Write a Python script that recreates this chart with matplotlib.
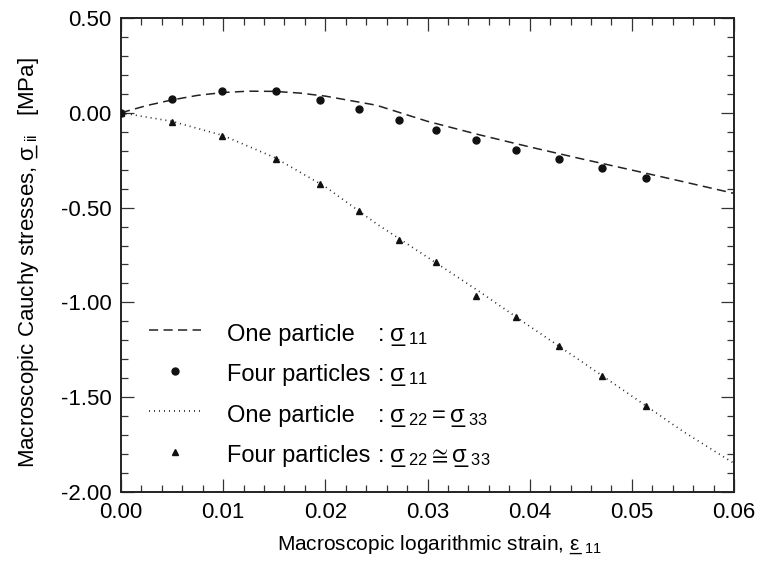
import matplotlib
matplotlib.use("Agg")
import matplotlib.pyplot as plt
from matplotlib.ticker import MultipleLocator, FormatStrFormatter

plt.rcParams["font.family"] = ["Liberation Sans", "DejaVu Sans"]
plt.rcParams["mathtext.fontset"] = "custom"
plt.rcParams["mathtext.rm"] = "Liberation Sans"
plt.rcParams["mathtext.it"] = "Liberation Sans"

# one particle, sigma_11 (dashed curve)
x_one = [0, 0.0025, 0.005, 0.0075, 0.01, 0.0125, 0.015, 0.0175, 0.02, 0.025,
         0.03, 0.035, 0.04, 0.045, 0.05, 0.055, 0.06]
s11_one = [0, 0.038, 0.068, 0.092, 0.107, 0.114, 0.113, 0.104, 0.088, 0.040,
           -0.045, -0.115, -0.180, -0.242, -0.302, -0.363, -0.425]
# one particle, sigma_22 = sigma_33 (dotted curve)
x_one2 = [0, 0.005, 0.01, 0.015, 0.02, 0.025, 0.03, 0.035, 0.04, 0.045, 0.05, 0.055, 0.06]
s22_one = [0, -0.045, -0.12, -0.235, -0.39, -0.585, -0.762, -0.94, -1.126,
           -1.309, -1.494, -1.68, -1.849]
# four particles (markers)
x_four = [0, 0.0050, 0.0099, 0.0152, 0.0195, 0.0233, 0.0272, 0.0308, 0.0347,
          0.0387, 0.0429, 0.0471, 0.0514]
s11_four = [0, 0.073, 0.113, 0.113, 0.069, 0.020, -0.040, -0.091, -0.145,
            -0.195, -0.244, -0.291, -0.342]
s22_four = [0, -0.047, -0.122, -0.244, -0.376, -0.516, -0.671, -0.789, -0.965,
            -1.079, -1.230, -1.387, -1.546]


# mathtext has no \underline: put an underscore back under the symbol
def ul(sym, sub, back=0.6):
    return r"%s\hspace{-%s}\_\,_{%s}" % (sym, back, sub)


fig = plt.figure(figsize=(7.61, 5.68), dpi=100)
ax = fig.add_axes([121 / 761, 1 - 492 / 568, 613 / 761, 474 / 568])

ax.plot(x_one, s11_one, color="#222222", lw=1.1, dashes=(6, 3.5))
ax.plot(x_one2, s22_one, color="#222222", lw=1.2, dashes=(0.6, 2.4))
ax.plot(x_four, s11_four, "o", color="#111111", ms=5, zorder=5)
ax.plot(x_four, s22_four, "^", color="#111111", ms=5, zorder=5)

ax.set_xlim(0, 0.06)
ax.set_ylim(-2.0, 0.5)
ax.xaxis.set_major_locator(MultipleLocator(0.01))
ax.xaxis.set_minor_locator(MultipleLocator(0.002))
ax.yaxis.set_major_locator(MultipleLocator(0.5))
ax.yaxis.set_minor_locator(MultipleLocator(0.1))
ax.xaxis.set_major_formatter(FormatStrFormatter("%.2f"))
ax.yaxis.set_major_formatter(FormatStrFormatter("%.2f"))
ax.tick_params(which="both", direction="in", top=True, right=True,
               labelsize=16, pad=7, width=0.9, color="#333333")
ax.tick_params(which="major", length=9.5)
ax.tick_params(which="minor", length=5)
for sp in ax.spines.values():
    sp.set_linewidth(1.4)
    sp.set_color("#222222")

ax.set_xlabel("Macroscopic logarithmic strain, $" + ul(r"\varepsilon", "11", 0.5) + "$",
              fontsize=15, labelpad=8)
ax.xaxis.label.set_x(0.52)
ax.set_ylabel("Macroscopic Cauchy stresses, $" + ul(r"\sigma", "ii") + "$   [MPa]",
              fontsize=16, labelpad=14)
ax.yaxis.label.set_y(0.485)

# legend drawn by hand so the colons line up
rows = [("dash", "One particle", "$" + ul(r"\sigma", "11") + "$"),
        ("o", "Four particles", "$" + ul(r"\sigma", "11") + "$"),
        ("dot", "One particle", "$" + ul(r"\sigma", "22") + " = " + ul(r"\sigma", "33") + "$"),
        ("^", "Four particles", "$" + ul(r"\sigma", "22") + r" \cong " + ul(r"\sigma", "33") + "$")]
tr = ax.transAxes
y0, dy, up = 0.319, 0.0852, 0.022
for i, (kind, name, expr) in enumerate(rows):
    y = y0 - i * dy
    if kind == "dash":
        ax.plot([0.046, 0.131], [y + up] * 2, transform=tr, color="#222222", lw=1.1, dashes=(6, 3.5))
    elif kind == "dot":
        ax.plot([0.046, 0.131], [y + up] * 2, transform=tr, color="#222222", lw=1.2, dashes=(0.6, 2.4))
    else:
        ax.plot([0.088], [y + up], kind, transform=tr, color="#111111", ms=5)
    ax.text(0.173, y, name, transform=tr, fontsize=17, va="baseline", ha="left")
    ax.text(0.419, y, ":", transform=tr, fontsize=17, va="baseline", ha="left")
    ax.text(0.438, y, expr, transform=tr, fontsize=17, va="baseline", ha="left")

fig.savefig("out.png", dpi=100)
